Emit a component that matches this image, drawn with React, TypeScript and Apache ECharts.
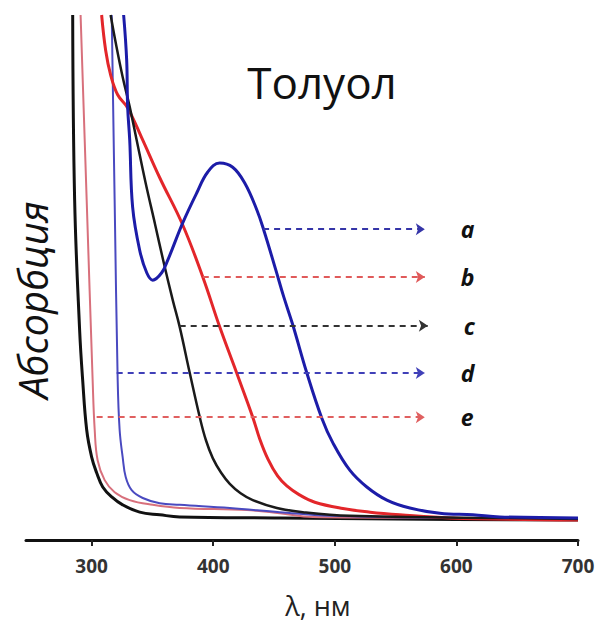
import React, { useEffect, useRef } from "react";
import * as echarts from "echarts";

// wavelength (nm), absorbance (arbitrary units)
const curveBlack1: [number, number][] = [
  [284.4, 100], [286.0, 64.8], [290.1, 40.0], [292.6, 30.5], [295.9, 21.0], [300.0, 15.8],
  [304.1, 12.8], [309.1, 10.1], [316.5, 8.2], [325.5, 6.7], [339.5, 5.3], [356.0, 4.8],
  [372.4, 4.4], [455, 4.2], [550, 4.0], [700, 3.8],
];
const curvePink: [number, number][] = [
  [290.9, 100], [295.9, 64.8], [300.8, 30.5], [302.5, 21.0], [304.9, 15.2], [310.7, 11.4],
  [318.9, 9.1], [331.3, 7.6], [350.2, 6.7], [372.4, 6.1], [427.6, 5.7], [454.7, 5.1],
  [481.9, 4.4], [600, 4.2], [700, 4.0],
];
const curveBlueThin: [number, number][] = [
  [316.5, 100], [318.9, 64.8], [321.4, 30.5], [323.0, 21.0], [325.5, 15.8], [328.0, 12.0],
  [332.9, 9.5], [342.0, 8.0], [356.0, 7.0], [372.4, 6.7], [413.6, 6.1], [454.7, 5.3],
  [495.9, 4.6], [600, 4.2], [700, 4.0],
];
const curveRed: [number, number][] = [
  [308.2, 100], [311.5, 93.3], [315.6, 88.6], [321.4, 84.8], [329.6, 82.3], [341.2, 76.6],
  [356.0, 69.0], [374.9, 60.0], [391.4, 50.1], [405.3, 40.6], [419.3, 31.8], [432.5, 23.4],
  [438.3, 19.2], [445.0, 15.4], [452.9, 12.2], [460.5, 10.3], [470.9, 8.6], [483.5, 7.2],
  [506.6, 6.0], [529.0, 5.3], [553.5, 4.8], [594.6, 4.2], [700, 3.8],
];
const curveBlack2: [number, number][] = [
  [315.6, 100], [319.8, 94.7], [325.5, 88.2], [331.3, 82.5], [337.0, 76.2], [344.4, 68.0],
  [351.9, 60.4], [359.3, 52.8], [366.7, 45.7], [372.4, 40.6], [380.7, 31.8], [388.9, 23.4],
  [394.0, 19.0], [399.6, 15.6], [406.5, 12.8], [413.6, 10.7], [422.5, 8.9], [432.5, 7.6],
  [452.3, 6.1], [473.7, 5.3], [512.3, 4.6], [635.8, 4.2], [700, 4.0],
];
const curveBlue: [number, number][] = [
  [326.3, 100], [328.8, 91.4], [329.6, 82.5], [331.3, 76.2], [333.7, 63.4], [339.5, 55.2],
  [345.3, 50.9], [350.2, 49.5], [357.6, 50.9], [362.6, 53.3], [374.9, 60.4], [386.4, 66.1],
  [395.5, 70.1], [405.3, 71.8], [416.0, 71.0], [425.9, 68.0], [435.8, 62.9], [441.6, 59.0],
  [451.5, 51.4], [458.0, 46.3], [465.4, 41.0], [477.0, 31.8], [489.3, 23.2], [498.4, 18.5],
  [512.3, 13.3], [526.3, 10.1], [542.8, 7.6], [561.7, 6.1], [586.4, 5.1], [613.6, 4.8],
  [635.8, 4.4], [700, 4.2],
];

const arrowNames = ["a", "b", "c", "d", "e"];
const arrowStart = [441, 391.4, 372.4, 320.6, 304.1];
const arrowEnd = [574, 574, 576.5, 574, 574];
const arrowLevel = [59.2, 50.1, 40.8, 31.8, 23.4];
const arrowColors = ["#3535a8", "#e05a5a", "#333333", "#4040b8", "#e06060"];

const xTicks = [300, 400, 500, 600, 700];

export default function App() {
  const ref = useRef<HTMLDivElement>(null);
  useEffect(() => {
    document.body.style.margin = "0";
    const chart = echarts.init(ref.current!, undefined, { renderer: "svg" });
    const font = "'Open Sans', 'Noto Sans', sans-serif";
    const curve = (data: [number, number][], color: string, width: number, z = 2) => ({
      type: "line",
      data,
      smooth: 0.4,
      symbol: "none",
      z,
      lineStyle: { color, width },
    });
    chart.setOption({
      animation: false,
      grid: { left: 26, right: 20, top: 15, bottom: 86 },
      xAxis: {
        type: "value",
        min: 246,
        max: 700,
        axisLine: { show: true, lineStyle: { color: "#111", width: 3 } },
        axisTick: { show: true, customValues: xTicks, length: 6, lineStyle: { color: "#222", width: 2 } },
        axisLabel: {
          customValues: xTicks,
          fontSize: 19,
          fontWeight: "bold",
          color: "#333",
          margin: 16,
          fontFamily: font,
        },
        splitLine: { show: false },
      },
      yAxis: { type: "value", min: 0, max: 100, show: false },
      graphic: [
        {
          type: "text",
          x: 322,
          y: 82,
          style: { text: "Толуол", fontSize: 44, fontFamily: font, fill: "#111", align: "center", verticalAlign: "middle" },
        },
        {
          type: "text",
          x: 318,
          y: 605,
          style: { text: "λ, нм", fontSize: 27, fontFamily: font, fill: "#222", align: "center", verticalAlign: "middle" },
        },
        {
          type: "text",
          x: 32,
          y: 300,
          rotation: Math.PI / 2,
          style: { text: "Абсорбция", fontSize: 40, fontStyle: "italic", fontFamily: font, fill: "#111", align: "center", verticalAlign: "middle" },
        },
      ],
      series: [
        curve(curveBlack1, "#111111", 3),
        curve(curvePink, "#d8707c", 2),
        curve(curveBlueThin, "#4a4ac0", 2),
        curve(curveRed, "#e3262a", 3),
        curve(curveBlack2, "#1a1a1a", 2.5),
        curve(curveBlue, "#1c1ca8", 3),
        {
          type: "line",
          data: [],
          markLine: {
            silent: true,
            symbol: ["none", "arrow"],
            symbolSize: 9,
            data: arrowNames.map((n, i) => [
              {
                coord: [arrowStart[i], arrowLevel[i]],
                lineStyle: { color: arrowColors[i], width: 1.8, type: [6, 5] },
                label: {
                  show: true,
                  position: "end",
                  formatter: n,
                  distance: 36,
                  fontSize: 23,
                  fontStyle: "italic",
                  fontWeight: "bold",
                  color: "#111",
                  fontFamily: font,
                },
              },
              { coord: [arrowEnd[i], arrowLevel[i]] },
            ]),
          },
        },
      ],
    });
    return () => chart.dispose();
  }, []);
  return <div ref={ref} style={{ width: 598, height: 626 }} />;
}
